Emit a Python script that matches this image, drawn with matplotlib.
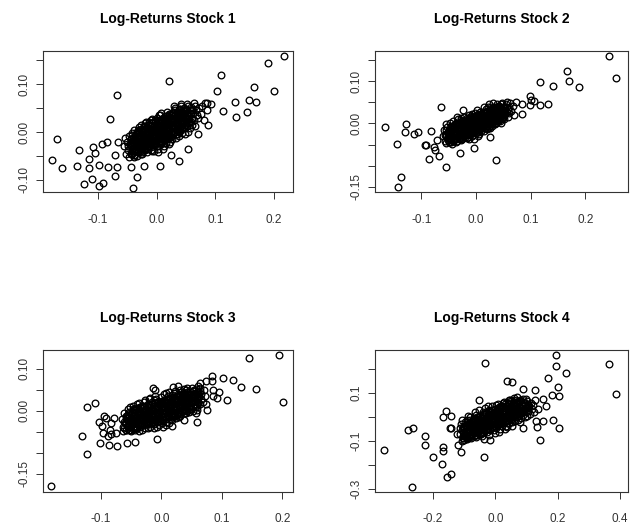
import numpy as np
import matplotlib
matplotlib.use('Agg')
import matplotlib.pyplot as plt

plt.rcParams['font.family'] = ['Liberation Sans', 'DejaVu Sans']

titles = ['Log-Returns Stock 1', 'Log-Returns Stock 2', 'Log-Returns Stock 3', 'Log-Returns Stock 4']

# points, in thousandths (x = market log-return, y = stock log-return)
# tail = the isolated points, core/inner = estimates for the solid black cloud
stock1_tail = [(216,159),(190,145),(200,86),(109,120),(165,95),(102,85),(134,63),(158,66),(169,62),(153,42),
    (135,31),(113,44),(21,106),(-68,78),(-79,27),(93,58),(85,61),(88,15),(-170,-14),(-178,-59),(-160,-76),
    (-131,-37),(-136,-71),(-114,-56),(-114,-76),(-108,-31),(-105,-43),(-97,-68),(-110,-99),(-124,-109),
    (-98,-113),(-91,-106),(-71,-91),(-67,-72),(-82,-72),(-40,-116),(-33,-94),(-44,-74),(-22,-71),(6,-70),
    (25,-47),(38,-60),(54,-36),(70,-5),(-92,-24),(-85,-21),(-71,-48),(-65,-21)]
stock1_core = [(-55,-30),(-52,-45),(-50,-20),(-48,-38),(-47,-8),(-46,-52),(-45,-25),(-53,-12),(-49,-30),(-44,-44),
    (-43,-15),(-42,-35),(-41,-2),(-40,-28),(-39,-48),(-38,-20),(-37,-40),(-36,-8),(-35,-30),(-44,-22),(-40,-12),
    (-38,-52),(-36,-18),(-42,-45),(-39,5),
    (-34,-25),(-33,0),(-32,-40),(-31,-15),(-30,-32),(-29,10),(-28,-20),(-27,-45),(-26,-5),(-25,-28),(-34,-10),
    (-33,-50),(-31,-35),(-30,2),(-29,-22),(-28,-38),(-27,-12),(-26,15),(-32,-18),(-25,-42),
    (-24,-20),(-23,5),(-22,-35),(-21,-10),(-20,-28),(-19,18),(-18,-2),(-17,-42),(-16,-18),(-15,8),(-24,-45),
    (-23,-28),(-22,12),(-21,-25),(-20,-5),(-19,-38),(-18,20),(-17,-15),(-16,0),(-15,-30),(-24,2),(-20,-15),
    (-14,-12),(-13,15),(-12,-30),(-11,2),(-10,-20),(-9,25),(-8,-8),(-7,-40),(-6,10),(-5,-25),(-14,-35),(-13,-2),
    (-12,20),(-11,-18),(-10,5),(-9,-32),(-8,28),(-7,-10),(-6,-22),(-5,15),(-14,8),(-10,-38),(-8,18),
    (-4,-5),(-3,20),(-2,-28),(-1,8),(0,-15),(1,30),(2,-2),(3,-35),(4,12),(5,-20),(-4,-40),(-3,5),(-2,25),(-1,-18),
    (0,2),(1,-30),(2,18),(3,-8),(4,35),(5,0),(-3,-22),(0,15),(2,-42),(4,-12),
    (6,-10),(7,22),(8,-25),(9,5),(10,-15),(11,30),(12,0),(13,-30),(14,15),(15,-5),(6,35),(7,-2),(8,12),(9,-20),
    (10,25),(11,-35),(12,18),(13,8),(14,-12),(15,28),(8,40),(12,-22),(10,8),
    (16,2),(17,30),(18,-15),(19,15),(20,-5),(21,38),(22,8),(23,-20),(24,22),(25,-2),(16,-22),(17,10),(18,42),
    (19,-8),(20,25),(21,-25),(22,32),(23,5),(24,-10),(25,35),(18,20),(22,-8),
    (26,10),(27,35),(28,-5),(29,22),(30,0),(31,45),(32,15),(33,-12),(34,30),(35,5),(26,-15),(27,20),(28,40),
    (29,-2),(30,28),(31,8),(32,50),(33,18),(34,-5),(35,38),(28,12),(30,55),
    (36,15),(37,42),(38,0),(39,28),(40,10),(41,55),(42,22),(43,-2),(44,35),(45,18),(36,32),(37,5),(38,48),
    (39,-8),(40,38),(41,20),(42,58),(43,30),(44,8),(45,45),
    (46,25),(47,50),(48,8),(49,35),(50,18),(51,58),(52,28),(53,0),(54,42),(55,22),(46,40),(48,-5),(50,48),
    (52,12),(54,55),
    (56,30),(58,52),(60,15),(62,40),(64,25),(66,55),(68,35),(57,8),(59,45),(61,28),(63,60),(65,12),(67,45),
    (70,30),(72,50),(75,38),(78,55),(80,25),(82,60),(85,45)]
stock1_inner = [(-44,-46),(-44,-30),(-44,-14),(-41,-39),(-41,-23),(-41,-7),(-38,-47),(-38,-31),(-38,-15),
    (-35,-39),(-35,-21),(-35,-5),(-32,-41),(-32,-25),(-32,-9),(-32,5),(-29,-33),(-29,-15),(-29,1),
    (-26,-40),(-26,-24),(-26,-8),(-26,6),(-23,-32),(-23,-16),(-23,0),(-20,-34),(-20,-18),(-20,-2),(-20,12),
    (-17,-26),(-17,-10),(-17,6),(-14,-32),(-14,-16),(-14,0),(-14,14),(-11,-25),(-11,-9),(-11,7),
    (-8,-27),(-8,-11),(-8,5),(-8,19),(-5,-19),(-5,-3),(-5,13),(-2,-25),(-2,-9),(-2,7),(-2,21),
    (1,-17),(1,-1),(1,15),(4,-20),(4,-4),(4,12),(4,26),(7,-12),(7,4),(7,20),(10,-18),(10,-2),(10,14),(10,28),
    (13,-10),(13,6),(13,22),(16,-12),(16,4),(16,20),(16,34),(19,-5),(19,11),(19,27),
    (22,-11),(22,5),(22,21),(22,35),(25,-3),(25,13),(25,29),(28,-5),(28,11),(28,27),(28,41),
    (31,3),(31,19),(31,35),(34,-4),(34,12),(34,28),(34,42),(37,4),(37,20),(37,36),
    (40,2),(40,18),(40,34),(40,48),(43,10),(43,26),(43,42),(46,8),(46,24),(46,40),(49,15),(49,31),(49,47),
    (52,13),(52,29),(52,45),(55,21),(55,37),(58,21),(58,37),(61,29),(61,45)]

stock2_tail = [(244,159),(257,108),(167,124),(170,101),(188,86),(117,97),(141,89),(132,47),(118,43),(98,65),
    (106,54),(101,55),(98,43),(85,47),(73,51),(84,22),(-63,39),(-23,32),(-167,-9),(-127,-2),(-129,-21),
    (-113,-25),(-106,-20),(-145,-48),(-82,-17),(-91,-50),(-93,-52),(-77,-55),(-85,-85),(-67,-76),(-55,-102),
    (-30,-71),(37,-87),(-137,-126),(-142,-150),(-74,-63),(-71,-39),(-4,-59),(26,-31)]
stock2_core = [(-60,-30),(-58,-15),(-56,-42),(-55,-25),(-53,-8),(-52,-35),(-51,-20),(-50,-45),(-57,-28),(-54,-2),
    (-49,-15),(-48,-38),(-47,0),(-46,-28),(-45,-45),(-44,-12),(-43,-32),(-42,5),(-41,-22),(-40,-40),(-49,-30),
    (-47,-18),(-45,-5),(-43,-48),(-41,-8),
    (-39,-18),(-38,-35),(-37,2),(-36,-25),(-35,-42),(-34,-8),(-33,-30),(-32,10),(-31,-15),(-30,-38),(-39,-2),
    (-37,-45),(-35,-12),(-33,-22),(-31,0),(-38,-28),(-34,15),
    (-29,-10),(-28,-30),(-27,8),(-26,-20),(-25,-38),(-24,0),(-23,-25),(-22,15),(-21,-12),(-20,-32),(-29,-22),
    (-27,-40),(-25,-5),(-23,5),(-21,-22),(-28,12),(-24,-15),(-26,-2),
    (-19,-5),(-18,-25),(-17,12),(-16,-15),(-15,-32),(-14,2),(-13,-20),(-12,20),(-11,-8),(-10,-28),(-19,-18),
    (-17,-35),(-15,8),(-13,-3),(-11,15),(-18,5),(-14,-10),(-12,-38),(-16,-25),
    (-9,0),(-8,-20),(-7,18),(-6,-10),(-5,-28),(-4,8),(-3,-15),(-2,25),(-1,-5),(0,-22),(-9,-15),(-7,-30),(-5,10),
    (-3,0),(-1,15),(-8,22),(-4,-38),(-2,-10),(-6,5),
    (1,5),(2,-15),(3,22),(4,-5),(5,-25),(6,12),(7,-10),(8,28),(9,0),(10,-18),(1,-8),(3,-30),(5,18),(7,2),(9,15),
    (2,32),(6,-20),(8,8),(4,10),
    (11,10),(12,-8),(13,28),(14,0),(15,-18),(16,18),(17,-2),(18,35),(19,8),(20,-12),(11,-2),(13,15),(15,5),
    (17,25),(19,-5),(12,22),(16,-10),(18,12),(14,38),
    (21,15),(22,-2),(23,32),(24,5),(25,-10),(26,22),(27,8),(28,40),(29,12),(30,-5),(21,28),(23,-8),(25,18),
    (27,30),(29,0),(22,38),(26,2),(28,20),(24,45),
    (31,20),(32,5),(33,38),(34,12),(35,-2),(36,28),(37,15),(38,45),(39,18),(40,5),(31,35),(33,0),(35,22),
    (37,40),(39,8),(32,48),(36,10),(38,28),
    (41,25),(42,10),(43,42),(44,18),(45,2),(46,32),(47,22),(48,48),(49,15),(50,30),(42,38),(44,5),(46,45),
    (48,28),(50,12),
    (51,38),(53,22),(55,45),(57,28),(59,15),(61,40),(52,10),(54,32),(56,50),(58,35),(60,25),(62,48),(65,30),
    (68,42),(70,20)]
stock2_inner = [(-54,-46),(-54,-30),(-54,-16),(-51,-40),(-51,-24),(-48,-44),(-48,-28),(-48,-12),
    (-45,-39),(-45,-23),(-45,-9),(-42,-41),(-42,-25),(-42,-9),(-39,-33),(-39,-17),(-39,-3),
    (-36,-38),(-36,-22),(-36,-6),(-33,-30),(-33,-14),(-33,0),(-30,-34),(-30,-18),(-30,-2),
    (-27,-27),(-27,-11),(-27,3),(-24,-31),(-24,-15),(-24,1),(-21,-24),(-21,-8),(-21,6),
    (-18,-28),(-18,-12),(-18,4),(-15,-20),(-15,-4),(-15,10),(-12,-25),(-12,-9),(-12,7),
    (-9,-17),(-9,-1),(-9,13),(-6,-21),(-6,-5),(-6,11),(-3,-14),(-3,2),(-3,16),(0,-18),(0,-2),(0,14),
    (3,-10),(3,6),(3,20),(6,-15),(6,1),(6,17),(9,-7),(9,9),(9,23),(12,-11),(12,5),(12,21),
    (15,-4),(15,12),(15,26),(18,-8),(18,8),(18,24),(21,0),(21,16),(21,30),(24,-5),(24,11),(24,27),
    (27,3),(27,19),(27,33),(30,-1),(30,15),(30,31),(33,6),(33,22),(33,36),(36,2),(36,18),(36,34),
    (39,9),(39,25),(39,39),(42,9),(42,25),(42,39),(45,15),(45,31),(48,14),(48,30),(51,20),(51,36),
    (54,24),(54,38)]

stock3_tail = [(-182,-180),(-132,-60),(-123,-104),(-123,10),(-110,18),(-103,-28),(-99,-37),(-102,-77),(-95,-12),
    (-91,-18),(-96,-52),(-89,-60),(-85,-47),(-83,-55),(-86,-82),(-74,-84),(-75,-54),(-79,-18),(-84,-29),
    (-57,-76),(-43,-75),(-7,-68),(-14,55),(-10,50),(19,56),(27,60),(18,-36),(37,-23),(58,-26),(76,2),(83,84),
    (83,70),(86,50),(86,34),(95,45),(92,30),(101,77),(109,26),(119,74),(131,56),(144,126),(157,53),(194,133),
    (201,21),(63,66),(74,72),(58,2),(74,17)]
stock3_core = [(-65,-20),(-63,-38),(-62,-5),(-60,-30),(-58,-45),(-57,-12),(-56,-25),(-55,5),(-64,-48),(-59,-18),
    (-54,-35),(-53,-15),(-52,8),(-51,-28),(-50,-48),(-49,-5),(-48,-22),(-47,12),(-46,-40),(-45,-10),(-54,-2),
    (-52,-45),(-50,-18),(-48,-32),(-46,2),
    (-44,-28),(-43,5),(-42,-42),(-41,-15),(-40,15),(-39,-32),(-38,-5),(-37,-48),(-36,-20),(-35,10),(-44,-12),
    (-42,-25),(-40,-38),(-38,18),(-36,-8),(-43,-45),(-39,0),
    (-34,-18),(-33,12),(-32,-35),(-31,-2),(-30,-25),(-29,20),(-28,-12),(-27,-40),(-26,5),(-25,-28),(-34,-32),
    (-32,0),(-30,-10),(-28,25),(-26,-20),(-33,-45),(-29,8),(-31,-15),
    (-24,-5),(-23,-30),(-22,15),(-21,-18),(-20,28),(-19,-38),(-18,2),(-17,-22),(-16,20),(-15,-10),(-24,-20),
    (-22,-40),(-20,0),(-18,-12),(-16,-30),(-23,10),(-19,30),(-21,-28),
    (-14,-15),(-13,18),(-12,-32),(-11,5),(-10,-20),(-9,28),(-8,-5),(-7,-38),(-6,12),(-5,-18),(-14,0),(-12,25),
    (-10,-8),(-8,-28),(-6,-12),(-13,-40),(-9,10),(-11,35),(-7,18),
    (-4,2),(-3,-25),(-2,20),(-1,-10),(0,32),(1,-30),(2,8),(3,-15),(4,25),(5,-5),(-4,-35),(-2,-2),(0,12),(2,-20),
    (4,40),(-3,15),(1,22),(3,-38),(5,10),
    (6,-12),(7,20),(8,-28),(9,5),(10,35),(11,-15),(12,12),(13,-2),(14,28),(15,-20),(6,8),(8,42),(10,-5),(12,-30),
    (14,15),(7,-35),(9,25),(11,2),(13,45),(15,10),
    (16,0),(17,30),(18,-15),(19,18),(20,42),(21,-5),(22,22),(23,8),(24,-18),(25,35),(16,15),(18,38),(20,-8),
    (22,48),(24,12),(17,-22),(19,5),(21,28),(23,-12),
    (26,20),(27,-5),(28,40),(29,10),(30,28),(31,-12),(32,45),(33,15),(34,0),(35,32),(26,5),(28,-8),(30,50),
    (32,22),(34,38),(27,28),(29,-15),(31,12),
    (36,18),(37,42),(38,5),(39,30),(40,-5),(41,50),(42,22),(43,10),(44,38),(45,-2),(36,35),(38,52),(40,15),
    (42,40),(44,25),(37,0),(39,12),(43,55),
    (46,28),(47,8),(48,45),(49,20),(50,55),(51,35),(52,0),(53,25),(54,50),(55,15),(46,40),(48,5),(50,30),
    (52,48),(54,35),
    (56,30),(57,52),(58,10),(59,40),(60,22),(61,58),(62,35),(63,15),(64,48),(65,28),(57,-5),(59,25),(61,45),
    (63,55),(66,40),(68,20),(70,50),(72,35)]
stock3_inner = [(-62,-42),(-62,-26),(-59,-45),(-59,-29),(-59,-13),(-56,-39),(-56,-23),(-56,-7),
    (-53,-46),(-53,-30),(-53,-14),(-50,-39),(-50,-23),(-50,-7),(-47,-43),(-47,-27),(-47,-11),(-47,3),
    (-44,-36),(-44,-20),(-44,-4),(-41,-40),(-41,-24),(-41,-8),(-41,6),(-38,-33),(-38,-17),(-38,-1),
    (-35,-38),(-35,-22),(-35,-6),(-35,8),(-32,-30),(-32,-14),(-32,2),(-29,-35),(-29,-19),(-29,-3),(-29,11),
    (-26,-28),(-26,-12),(-26,4),(-23,-32),(-23,-16),(-23,0),(-23,14),(-20,-25),(-20,-9),(-20,7),
    (-17,-30),(-17,-14),(-17,2),(-17,16),(-14,-22),(-14,-6),(-14,10),(-11,-27),(-11,-11),(-11,5),(-11,19),
    (-8,-20),(-8,-4),(-8,12),(-5,-24),(-5,-8),(-5,8),(-5,22),(-2,-17),(-2,-1),(-2,15),
    (1,-22),(1,-6),(1,10),(1,24),(4,-14),(4,2),(4,18),(7,-19),(7,-3),(7,13),(7,27),(10,-11),(10,5),(10,21),
    (13,-16),(13,0),(13,16),(13,30),(16,-9),(16,7),(16,23),(19,-13),(19,3),(19,19),(19,33),
    (22,-6),(22,10),(22,26),(25,-11),(25,5),(25,21),(25,35),(28,-3),(28,13),(28,29),
    (31,-8),(31,8),(31,24),(31,38),(34,-1),(34,15),(34,31),(37,-5),(37,11),(37,27),(37,41),
    (40,2),(40,18),(40,34),(43,-1),(43,15),(43,31),(43,45),(46,5),(46,21),(46,37),(49,4),(49,20),(49,36),
    (52,9),(52,25),(52,41),(55,9),(55,25),(55,41),(58,14),(58,30),(58,44),(61,19),(61,35)]

stock4_tail = [(-356,-135),(-280,-54),(-264,-44),(-266,-289),(-227,-78),(-226,-115),(-199,-165),(-169,-140),
    (-169,-126),(-170,-196),(-154,-247),(-142,-235),(-160,26),(-168,0),(-141,3),(-144,-47),(-142,-44),
    (-121,-114),(-109,-144),(-124,-71),(-106,-101),(-38,-167),(-34,224),(-53,72),(37,151),(54,146),(89,118),
    (127,114),(169,165),(194,260),(194,215),(226,183),(202,125),(204,89),(183,93),(152,76),(161,46),(154,-14),
    (184,-11),(203,-44),(129,-17),(132,-39),(142,-94),(88,-46),(364,221),(388,97),(128,72),(136,36),(-17,-94),
    (-38,-92)]
stock4_core = [(-115,-45),(-112,-70),(-110,-30),(-107,-55),(-105,-80),(-102,-40),(-100,-62),(-98,-20),(-96,-75),
    (-95,-50),(-108,-10),(-103,-88),
    (-93,-35),(-91,-65),(-90,-10),(-88,-48),(-86,-80),(-85,-25),(-83,-58),(-81,0),(-80,-40),(-78,-72),(-76,-18),
    (-75,-50),(-92,-85),(-87,5),(-82,-30),(-77,-88),
    (-73,-35),(-71,-60),(-70,-5),(-68,-45),(-66,-75),(-65,-20),(-63,-50),(-61,10),(-60,-30),(-58,-65),(-56,-8),
    (-55,-42),(-72,-15),(-67,20),(-62,-82),(-57,-25),
    (-53,-20),(-51,-55),(-50,5),(-48,-35),(-46,-70),(-45,-10),(-43,-45),(-41,20),(-40,-25),(-38,-60),(-36,0),
    (-35,-38),(-52,30),(-47,-15),(-42,-80),(-37,15),(-44,-5),
    (-33,-15),(-31,-48),(-30,12),(-28,-30),(-26,-62),(-25,0),(-23,-38),(-21,28),(-20,-18),(-18,-52),(-16,8),
    (-15,-30),(-32,38),(-27,-8),(-22,-72),(-17,20),(-24,45),
    (-13,-5),(-11,-40),(-10,20),(-8,-22),(-6,-55),(-5,8),(-3,-30),(-1,35),(0,-10),(2,-45),(4,15),(5,-20),(-12,45),
    (-7,-2),(-2,-65),(3,50),(-9,-30),
    (7,0),(9,-32),(10,28),(12,-12),(14,-48),(15,15),(17,-20),(19,45),(20,5),(22,-35),(24,25),(25,-8),(8,55),
    (13,38),(18,-2),(23,60),(11,-60),
    (27,12),(29,-22),(30,38),(32,0),(34,-35),(35,25),(37,-10),(39,55),(40,15),(42,-25),(44,40),(45,5),(28,62),
    (33,48),(38,-40),(43,70),(31,-50),
    (47,25),(49,-10),(50,48),(52,12),(54,-22),(55,35),(57,0),(59,62),(60,22),(62,-15),(64,45),(65,10),(48,70),
    (53,-38),(58,80),(63,30),
    (67,35),(69,0),(70,55),(72,20),(74,-10),(75,45),(77,8),(79,70),(80,30),(82,-5),(84,50),(85,18),(68,85),
    (73,65),(78,-20),
    (87,40),(89,10),(90,65),(92,28),(94,0),(95,50),(97,20),(99,75),(100,38),(102,5),(104,55),(106,25),(108,45),
    (110,15),(113,60),(116,35),(120,50),(125,20)]
stock4_inner = [(-105,-87),(-105,-63),(-105,-39),(-100,-96),(-100,-72),(-100,-48),(-95,-81),(-95,-57),(-95,-33),
    (-90,-90),(-90,-66),(-90,-42),(-90,-18),(-85,-75),(-85,-51),(-85,-27),(-80,-84),(-80,-60),(-80,-36),(-80,-12),
    (-75,-69),(-75,-45),(-75,-21),(-70,-78),(-70,-54),(-70,-30),(-70,-6),(-65,-63),(-65,-39),(-65,-15),
    (-60,-72),(-60,-48),(-60,-24),(-60,0),(-55,-57),(-55,-33),(-55,-9),(-50,-66),(-50,-42),(-50,-18),(-50,6),
    (-45,-51),(-45,-27),(-45,-3),(-40,-60),(-40,-36),(-40,-12),(-40,12),(-35,-45),(-35,-21),(-35,3),
    (-30,-54),(-30,-30),(-30,-6),(-30,18),(-25,-39),(-25,-15),(-25,9),(-20,-48),(-20,-24),(-20,0),(-20,24),
    (-15,-33),(-15,-9),(-15,15),(-10,-42),(-10,-18),(-10,6),(-10,30),(-5,-27),(-5,-3),(-5,21),
    (0,-36),(0,-12),(0,12),(0,36),(5,-21),(5,3),(5,27),(10,-30),(10,-6),(10,18),(10,42),(15,-15),(15,9),(15,33),
    (20,-24),(20,0),(20,24),(20,48),(25,-9),(25,15),(25,39),(30,-18),(30,6),(30,30),(30,54),
    (35,-3),(35,21),(35,45),(40,-12),(40,12),(40,36),(40,60),(45,3),(45,27),(45,51),
    (50,-6),(50,18),(50,42),(50,66),(55,9),(55,33),(55,57),(60,0),(60,24),(60,48),(60,72),
    (65,15),(65,39),(65,63),(70,12),(70,36),(70,60),(75,21),(75,45),(75,69),(80,18),(80,42),(80,66),
    (85,31),(85,55),(90,28),(90,52),(90,76),(95,37),(95,61),(100,44),(100,68),(105,51)]

# axis ticks (R drops labels that would collide)
xticks = [[-0.1, 0.0, 0.1, 0.2], [-0.1, 0.0, 0.1, 0.2], [-0.1, 0.0, 0.1, 0.2], [-0.2, 0.0, 0.2, 0.4]]
xlabels = [['-0.1', '0.0', '0.1', '0.2'], ['-0.1', '0.0', '0.1', '0.2'],
           ['-0.1', '0.0', '0.1', '0.2'], ['-0.2', '0.0', '0.2', '0.4']]
yticks = [[-0.10, -0.05, 0.0, 0.05, 0.10, 0.15],
          [-0.15, -0.10, -0.05, 0.0, 0.05, 0.10, 0.15],
          [-0.15, -0.10, -0.05, 0.0, 0.05, 0.10],
          [-0.3, -0.2, -0.1, 0.0, 0.1, 0.2]]
ylabels = [['-0.10', '', '0.00', '', '0.10', ''],
           ['-0.15', '', '', '0.00', '', '0.10', ''],
           ['-0.15', '', '', '0.00', '', '0.10'],
           ['-0.3', '', '-0.1', '', '0.1', '']]
xlims = [(-0.193, 0.232), (-0.184, 0.2775), (-0.196, 0.2175), (-0.385, 0.424)]
ylims = [(-0.126, 0.169), (-0.163, 0.171), (-0.193, 0.145), (-0.31, 0.28)]

stocks = [stock1_tail + stock1_core + stock1_inner, stock2_tail + stock2_core + stock2_inner,
          stock3_tail + stock3_core + stock3_inner, stock4_tail + stock4_core + stock4_inner]

fig = plt.figure(figsize=(6.34, 5.27), dpi=100)
boxes = [[0.0678, 0.635, 0.3943, 0.268], [0.592, 0.635, 0.398, 0.268],
         [0.0678, 0.067, 0.3943, 0.269], [0.592, 0.067, 0.398, 0.269]]

for i in range(4):
    ax = fig.add_axes(boxes[i])
    pts = np.array(stocks[i]) / 1000.0
    ax.plot(pts[:, 0], pts[:, 1], linestyle='none', marker='o', markersize=4.8,
            markerfacecolor='none', markeredgecolor='black', markeredgewidth=0.95)
    ax.set_xlim(*xlims[i])
    ax.set_ylim(*ylims[i])
    ax.set_xticks(xticks[i])
    ax.set_xticklabels(xlabels[i], fontsize=8.5)
    ax.set_yticks(yticks[i])
    ax.set_yticklabels(ylabels[i], fontsize=8.5, rotation=90, va='center')
    ax.tick_params(direction='out', length=5, width=0.7, colors='#333333')
    ax.tick_params(axis='x', pad=10.5)
    ax.tick_params(axis='y', pad=4)
    for sp in ax.spines.values():
        sp.set_linewidth(0.8)
        sp.set_color('#333333')
    ax.text(0.5, 1.225, titles[i], transform=ax.transAxes, ha='center', va='center',
            fontsize=10, fontweight='bold')

fig.savefig('out.png', dpi=100)
